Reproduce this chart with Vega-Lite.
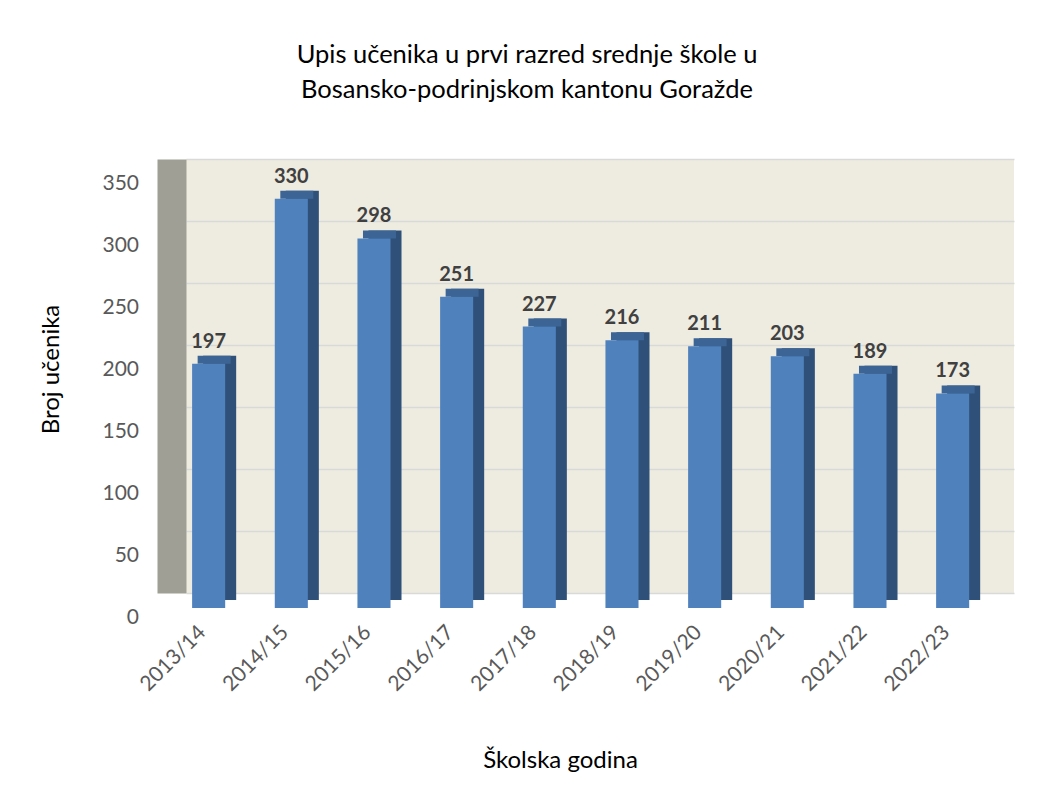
{
  "$schema": "https://vega.github.io/schema/vega-lite/v6.json",
  "width": 828,
  "height": 434,
  "autosize": {"type": "none"},
  "padding": {"left": 186, "top": 159, "right": 40, "bottom": 194},
  "background": "white",
  "title": {
    "text": ["Upis učenika u prvi razred srednje škole u", "Bosansko-podrinjskom kantonu Goražde"],
    "font": "Lato",
    "fontSize": 25.5,
    "fontWeight": "normal",
    "color": "#000000",
    "lineHeight": 35,
    "anchor": "middle",
    "dx": -73,
    "offset": 56
  },
  "data": {
    "values": [
      {"godina": "2013/14", "broj": 197},
      {"godina": "2014/15", "broj": 330},
      {"godina": "2015/16", "broj": 298},
      {"godina": "2016/17", "broj": 251},
      {"godina": "2017/18", "broj": 227},
      {"godina": "2018/19", "broj": 216},
      {"godina": "2019/20", "broj": 211},
      {"godina": "2020/21", "broj": 203},
      {"godina": "2021/22", "broj": 189},
      {"godina": "2022/23", "broj": 173}
    ]
  },
  "encoding": {
    "x": {
      "field": "godina",
      "type": "nominal",
      "sort": null,
      "scale": {"paddingInner": 0.6, "paddingOuter": 0.308, "align": 0.12},
      "axis": {
        "title": "Školska godina",
        "titleFont": "Lato",
        "titleFontSize": 24,
        "titleFontWeight": "normal",
        "titleColor": "#000000",
        "titleX": 374,
        "titleY": 174,
        "titleAlign": "center",
        "titleBaseline": "alphabetic",
        "labelAngle": -45,
        "labelAlign": "right",
        "labelBaseline": "middle",
        "labelFont": "Lato",
        "labelFontSize": 21,
        "labelColor": "#595959",
        "labelPadding": 36,
        "labelOffset": -6,
        "domain": false,
        "ticks": false,
        "grid": false
      }
    },
    "y": {
      "field": "broj",
      "type": "quantitative",
      "scale": {"domain": [0, 350], "nice": false},
      "axis": {
        "title": "Broj učenika",
        "titleFont": "Lato",
        "titleFontSize": 24,
        "titleFontWeight": "normal",
        "titleColor": "#000000",
        "titlePadding": 38,
        "titleY": 210,
        "values": [0, 50, 100, 150, 200, 250, 300, 350],
        "labelFont": "Lato",
        "labelFontSize": 21,
        "labelColor": "#595959",
        "labelOffset": 24,
        "labelPadding": 33,
        "offset": 14.5,
        "domain": true,
        "domainColor": "#A09F96",
        "domainWidth": 29,
        "domainCap": "butt",
        "ticks": false,
        "grid": true,
        "gridColor": "#D9D9D9",
        "gridWidth": 1.5
      }
    }
  },
  "layer": [
    {
      "mark": {"type": "bar", "color": "#2F5078", "xOffset": 11, "x2Offset": 11, "yOffset": 7, "y2Offset": 7}
    },
    {
      "mark": {"type": "tick", "color": "#3C6494", "opacity": 1, "orient": "horizontal", "size": 33, "thickness": 8, "xOffset": 5.5, "yOffset": 11}
    },
    {
      "mark": {"type": "bar", "color": "#4F81BD", "yOffset": 15, "y2Offset": 15}
    },
    {
      "mark": {"type": "text", "font": "Lato", "fontSize": 20, "fontWeight": "bold", "color": "#404040", "baseline": "alphabetic", "align": "center", "dy": -1},
      "encoding": {"text": {"field": "broj", "type": "quantitative"}}
    }
  ],
  "config": {
    "view": {"fill": "#EEECE1", "stroke": null},
    "font": "Lato"
  }
}
